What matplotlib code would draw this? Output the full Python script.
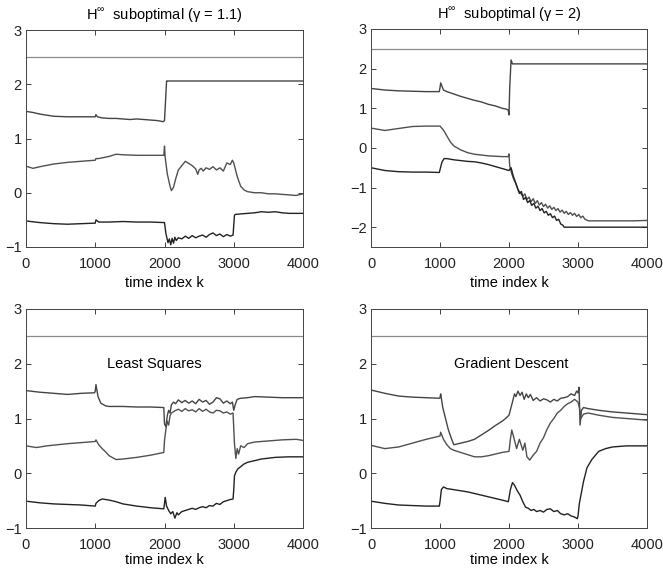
import matplotlib
matplotlib.use("Agg")
import matplotlib.pyplot as plt

plt.rcParams['font.family'] = ['Liberation Sans', 'DejaVu Sans']
plt.rcParams['mathtext.fontset'] = 'custom'
plt.rcParams['mathtext.rm'] = 'Liberation Sans'

# ------------------------------
# Data
# ------------------------------

ref_k = [0, 4000]
ref_y = [2.5, 2.5]

# top left: H-inf gamma = 1.1
tl_a_k = [0, 100, 200, 400, 600, 800, 1000, 1010, 1030, 1100, 1200, 1300, 1400, 1500, 1600, 1700,
          1800, 1900, 1980, 2000, 2030, 2040, 4000]
tl_a_y = [1.50, 1.48, 1.45, 1.41, 1.40, 1.40, 1.40, 1.44, 1.40, 1.38, 1.37, 1.37, 1.36, 1.35, 1.36, 1.35,
          1.34, 1.33, 1.31, 1.33, 2.06, 2.06, 2.06]
tl_b_k = [0, 100, 200, 400, 600, 800, 1000, 1010, 1050, 1200, 1300, 1400, 1600, 1800, 1990, 2000, 2010,
          2040, 2080, 2100, 2130, 2160, 2200, 2250, 2300, 2350, 2400, 2450, 2480, 2500, 2530, 2560, 2600,
          2650, 2700, 2750, 2800, 2850, 2900, 2950, 2980, 3000, 3050, 3100, 3150, 3200, 3300, 3400, 3500,
          3600, 3700, 3800, 3900, 4000]
tl_b_y = [0.49, 0.45, 0.48, 0.53, 0.56, 0.58, 0.60, 0.63, 0.63, 0.67, 0.71, 0.70, 0.69, 0.69, 0.69, 0.86, 0.65,
          0.35, 0.12, 0.04, 0.10, 0.25, 0.42, 0.50, 0.58, 0.54, 0.50, 0.44, 0.34, 0.42, 0.45, 0.40, 0.46,
          0.43, 0.48, 0.42, 0.46, 0.40, 0.55, 0.52, 0.60, 0.55, 0.30, 0.12, 0.05, 0.02, 0.00, 0.00, -0.02,
          -0.02, -0.03, -0.04, -0.05, -0.02]
tl_c_k = [0, 200, 400, 600, 800, 1000, 1010, 1050, 1200, 1400, 1600, 1800, 2000, 2020, 2050, 2070, 2090,
          2110, 2130, 2150, 2170, 2200, 2250, 2300, 2350, 2400, 2450, 2500, 2550, 2600, 2650, 2700, 2750,
          2800, 2850, 2900, 2950, 2990, 3010, 3020, 3100, 3200, 3300, 3400, 3500, 3600, 3700, 3800, 3900, 4000]
tl_c_y = [-0.52, -0.55, -0.57, -0.58, -0.57, -0.56, -0.50, -0.54, -0.54, -0.53, -0.54, -0.54, -0.55, -0.75,
          -0.92, -0.85, -0.96, -0.84, -0.93, -0.82, -0.88, -0.83, -0.85, -0.80, -0.84, -0.79, -0.83, -0.80,
          -0.78, -0.82, -0.77, -0.74, -0.79, -0.76, -0.81, -0.77, -0.80, -0.78, -0.42, -0.40, -0.39, -0.38,
          -0.37, -0.35, -0.36, -0.35, -0.37, -0.38, -0.38, -0.38]

# top right: H-inf gamma = 2
tr_a_k = [0, 200, 400, 600, 800, 990, 1000, 1010, 1050, 1100, 1200, 1300, 1400, 1500, 1600, 1700, 1800,
          1900, 1960, 1990, 2000, 2010, 2030, 2050, 4000]
tr_a_y = [1.50, 1.46, 1.44, 1.43, 1.42, 1.42, 1.52, 1.64, 1.46, 1.42, 1.36, 1.30, 1.25, 1.20, 1.16, 1.10, 1.06,
          1.00, 0.98, 0.95, 0.83, 1.50, 2.22, 2.12, 2.12]
tr_b_k = [0, 200, 400, 600, 800, 1000, 1050, 1100, 1150, 1200, 1300, 1400, 1500, 1600, 1700, 1800, 1900,
          1990, 2000, 2010, 2040, 2070, 2100, 2130, 2160, 2200, 2230, 2260, 2290, 2320, 2350, 2380, 2410,
          2440, 2470, 2500, 2530, 2560, 2590, 2620, 2650, 2680, 2710, 2740, 2770, 2800, 2830, 2860, 2890,
          2920, 2950, 2980, 3010, 3040, 3070, 3100, 3150, 3300, 3500, 3800, 4000]
tr_b_y = [0.50, 0.44, 0.49, 0.54, 0.55, 0.55, 0.45, 0.30, 0.15, 0.05, -0.05, -0.12, -0.16, -0.18, -0.20, -0.21,
          -0.22, -0.22, -0.15, -0.45, -0.65, -0.80, -0.90, -1.05, -1.12, -1.22, -1.16, -1.30, -1.24, -1.36,
          -1.28, -1.40, -1.33, -1.44, -1.38, -1.48, -1.42, -1.52, -1.46, -1.55, -1.50, -1.58, -1.53, -1.62,
          -1.57, -1.65, -1.60, -1.68, -1.63, -1.70, -1.65, -1.73, -1.68, -1.76, -1.72, -1.80, -1.84, -1.84,
          -1.84, -1.84, -1.83]
tr_c_k = [0, 200, 400, 600, 800, 990, 1000, 1030, 1060, 1100, 1200, 1300, 1400, 1500, 1600, 1700, 1800,
          1900, 2000, 2030, 2060, 2090, 2120, 2150, 2180, 2210, 2240, 2270, 2300, 2330, 2360, 2390, 2420,
          2450, 2480, 2510, 2540, 2570, 2600, 2630, 2660, 2690, 2720, 2750, 2780, 2800, 4000]
tr_c_y = [-0.50, -0.57, -0.60, -0.61, -0.61, -0.62, -0.55, -0.35, -0.27, -0.27, -0.30, -0.32, -0.34, -0.35,
          -0.38, -0.42, -0.47, -0.52, -0.57, -0.50, -0.70, -0.85, -1.00, -1.15, -1.10, -1.30, -1.25, -1.38,
          -1.33, -1.45, -1.40, -1.52, -1.47, -1.58, -1.53, -1.64, -1.60, -1.70, -1.66, -1.76, -1.72, -1.83,
          -1.80, -1.92, -1.95, -2.00, -2.00]

# bottom left: least squares
bl_a_k = [0, 200, 400, 600, 800, 990, 1000, 1010, 1040, 1080, 1150, 1200, 1400, 1600, 1800, 1990, 2000,
          2020, 2040, 2060, 2080, 2100, 2130, 2160, 2200, 2250, 2300, 2350, 2400, 2450, 2500, 2550, 2600,
          2650, 2700, 2750, 2800, 2850, 2900, 2950, 2980, 3000, 3020, 3050, 3100, 3200, 3300, 3500, 3700, 4000]
bl_a_y = [1.51, 1.48, 1.46, 1.44, 1.46, 1.47, 1.50, 1.62, 1.40, 1.28, 1.23, 1.22, 1.22, 1.21, 1.21, 1.20, 0.90,
          0.85, 1.05, 1.15, 1.10, 1.25, 1.30, 1.27, 1.34, 1.29, 1.33, 1.28, 1.32, 1.27, 1.35, 1.30, 1.33,
          1.26, 1.30, 1.38, 1.36, 1.28, 1.32, 1.27, 1.30, 1.15, 1.25, 1.35, 1.37, 1.38, 1.40, 1.39, 1.38, 1.38]
bl_b_k = [0, 150, 300, 600, 800, 1000, 1010, 1050, 1100, 1150, 1200, 1300, 1400, 1600, 1800, 1990, 2000,
          2020, 2040, 2060, 2080, 2100, 2150, 2200, 2250, 2300, 2350, 2400, 2450, 2500, 2550, 2600, 2650,
          2700, 2750, 2800, 2850, 2900, 2950, 2990, 3010, 3030, 3050, 3070, 3100, 3150, 3200, 3300, 3500,
          3700, 3900, 4000]
bl_b_y = [0.50, 0.47, 0.50, 0.54, 0.56, 0.58, 0.61, 0.52, 0.45, 0.39, 0.32, 0.25, 0.26, 0.29, 0.33, 0.38, 0.60,
          0.80, 0.95, 0.88, 1.05, 1.10, 1.14, 1.17, 1.13, 1.18, 1.14, 1.16, 1.12, 1.18, 1.13, 1.17, 1.12,
          1.10, 1.15, 1.14, 1.10, 1.12, 1.08, 1.10, 0.55, 0.27, 0.45, 0.35, 0.50, 0.47, 0.54, 0.57, 0.59,
          0.61, 0.62, 0.60]
bl_c_k = [0, 200, 400, 600, 800, 1000, 1010, 1050, 1100, 1200, 1300, 1400, 1500, 1600, 1800, 1990, 2000,
          2010, 2030, 2060, 2090, 2120, 2150, 2180, 2200, 2250, 2300, 2350, 2400, 2450, 2500, 2550, 2600,
          2650, 2700, 2750, 2800, 2850, 2900, 2950, 2990, 3000, 3010, 3030, 3060, 3100, 3150, 3200, 3300,
          3400, 3600, 3800, 4000]
bl_c_y = [-0.51, -0.54, -0.56, -0.57, -0.58, -0.60, -0.55, -0.50, -0.47, -0.49, -0.52, -0.56, -0.58, -0.60,
          -0.63, -0.65, -0.55, -0.44, -0.60, -0.68, -0.74, -0.70, -0.82, -0.72, -0.76, -0.70, -0.68, -0.66,
          -0.64, -0.66, -0.63, -0.61, -0.63, -0.59, -0.60, -0.55, -0.57, -0.52, -0.50, -0.48, -0.47, -0.30,
          -0.05, 0.02, 0.08, 0.12, 0.17, 0.20, 0.23, 0.26, 0.29, 0.30, 0.30]

# bottom right: gradient descent
br_a_k = [0, 200, 400, 600, 800, 990, 1000, 1010, 1040, 1080, 1120, 1160, 1200, 1300, 1400, 1500, 1600,
          1700, 1800, 1900, 1950, 2000, 2050, 2080, 2100, 2130, 2160, 2190, 2220, 2250, 2280, 2310, 2350,
          2400, 2450, 2500, 2550, 2600, 2650, 2700, 2750, 2800, 2850, 2900, 2950, 2980, 3000, 3015, 3030,
          3050, 3080, 3150, 3300, 3500, 3700, 4000]
br_a_y = [1.52, 1.46, 1.41, 1.39, 1.38, 1.37, 1.38, 1.45, 1.20, 1.00, 0.80, 0.65, 0.52, 0.55, 0.58, 0.62, 0.70,
          0.78, 0.87, 0.95, 1.00, 1.06, 1.30, 1.45, 1.40, 1.50, 1.42, 1.48, 1.35, 1.45, 1.38, 1.44, 1.33,
          1.38, 1.32, 1.36, 1.34, 1.30, 1.35, 1.32, 1.37, 1.38, 1.40, 1.45, 1.42, 1.50, 1.47, 1.57, 0.88,
          1.15, 1.20, 1.18, 1.15, 1.12, 1.10, 1.07]
br_b_k = [0, 200, 400, 600, 800, 1000, 1010, 1050, 1100, 1150, 1200, 1300, 1400, 1500, 1600, 1700, 1800,
          1900, 2000, 2020, 2040, 2070, 2110, 2150, 2180, 2200, 2230, 2260, 2300, 2350, 2400, 2450, 2500,
          2550, 2600, 2650, 2700, 2750, 2800, 2850, 2900, 2950, 3000, 3020, 3040, 3080, 3150, 3300, 3500,
          3700, 4000]
br_b_y = [0.51, 0.45, 0.48, 0.55, 0.62, 0.68, 0.75, 0.62, 0.52, 0.45, 0.42, 0.38, 0.34, 0.30, 0.30, 0.32, 0.35,
          0.38, 0.40, 0.62, 0.79, 0.65, 0.45, 0.62, 0.50, 0.42, 0.55, 0.30, 0.24, 0.33, 0.40, 0.55, 0.65,
          0.80, 0.92, 1.00, 1.10, 1.15, 1.22, 1.27, 1.30, 1.35, 1.30, 1.20, 1.00, 1.08, 1.10, 1.06, 1.02,
          1.00, 0.97]
br_c_k = [0, 200, 400, 600, 800, 990, 1000, 1020, 1050, 1100, 1200, 1300, 1400, 1500, 1600, 1700, 1800,
          1900, 1990, 2020, 2050, 2080, 2120, 2160, 2200, 2240, 2280, 2320, 2360, 2400, 2450, 2500, 2550,
          2600, 2650, 2700, 2750, 2800, 2850, 2900, 2950, 2990, 3000, 3020, 3050, 3080, 3130, 3200, 3300,
          3400, 3500, 3700, 4000]
br_c_y = [-0.51, -0.55, -0.58, -0.59, -0.60, -0.60, -0.52, -0.30, -0.25, -0.28, -0.30, -0.32, -0.34, -0.37,
          -0.40, -0.43, -0.46, -0.49, -0.52, -0.30, -0.17, -0.22, -0.32, -0.40, -0.52, -0.62, -0.64, -0.68,
          -0.66, -0.70, -0.68, -0.71, -0.66, -0.65, -0.70, -0.68, -0.74, -0.76, -0.74, -0.78, -0.80, -0.83,
          -0.78, -0.55, -0.35, -0.15, 0.10, 0.25, 0.40, 0.45, 0.48, 0.50, 0.50]

# ------------------------------
# Figure
# ------------------------------

W, H = 663, 569
fig = plt.figure(figsize=(W / 100, H / 100), dpi=100)


def make_axes(left, top, right, bottom):
    return fig.add_axes([left / W, 1 - bottom / H, (right - left) / W, (bottom - top) / H])


panels = [
    (make_axes(26, 30, 303, 247), (-1, 3), [-1, 0, 1, 2, 3],
     [(tl_a_k, tl_a_y), (tl_b_k, tl_b_y), (tl_c_k, tl_c_y)]),
    (make_axes(371, 29, 647, 247), (-2.5, 3), [-2, -1, 0, 1, 2, 3],
     [(tr_a_k, tr_a_y), (tr_b_k, tr_b_y), (tr_c_k, tr_c_y)]),
    (make_axes(26, 309, 303, 528), (-1, 3), [-1, 0, 1, 2, 3],
     [(bl_a_k, bl_a_y), (bl_b_k, bl_b_y), (bl_c_k, bl_c_y)]),
    (make_axes(371, 309, 647, 528), (-1, 3), [-1, 0, 1, 2, 3],
     [(br_a_k, br_a_y), (br_b_k, br_b_y), (br_c_k, br_c_y)]),
]

curve_colors = ['#444444', '#505050', '#222222']

for i, (ax, ylim, yticks, curves) in enumerate(panels):
    ax.plot(ref_k, ref_y, color='#8a8a8a', lw=0.9)
    for (k, y), c in zip(curves, curve_colors):
        ax.plot(k, y, color=c, lw=1.0)
    ax.set_xlim(0, 4000)
    ax.set_ylim(*ylim)
    ax.set_xticks([0, 1000, 2000, 3000, 4000])
    ax.set_yticks(yticks)
    ax.tick_params(direction='in', top=True, right=True, length=3.5, width=0.6,
                   labelsize=10.5, colors='#222222')
    ax.tick_params(axis='x', pad=7)
    ax.tick_params(axis='y', pad=3)
    for s in ax.spines.values():
        s.set_linewidth(0.7)
        s.set_color('#444444')
    ax.set_xlabel('time index k', fontsize=10.5, labelpad=4 if i < 2 else 1)

panels[0][0].set_title('H$^{\\infty}$  suboptimal (γ = 1.1)', fontsize=10.5, pad=7)
panels[1][0].set_title('H$^{\\infty}$  suboptimal (γ = 2)', fontsize=10.5, pad=7)
panels[2][0].text(1170, 2.0, 'Least Squares', fontsize=10.5, va='center', ha='left')
panels[3][0].text(1200, 2.0, 'Gradient Descent', fontsize=10.5, va='center', ha='left')

fig.savefig('out.png', dpi=100)
